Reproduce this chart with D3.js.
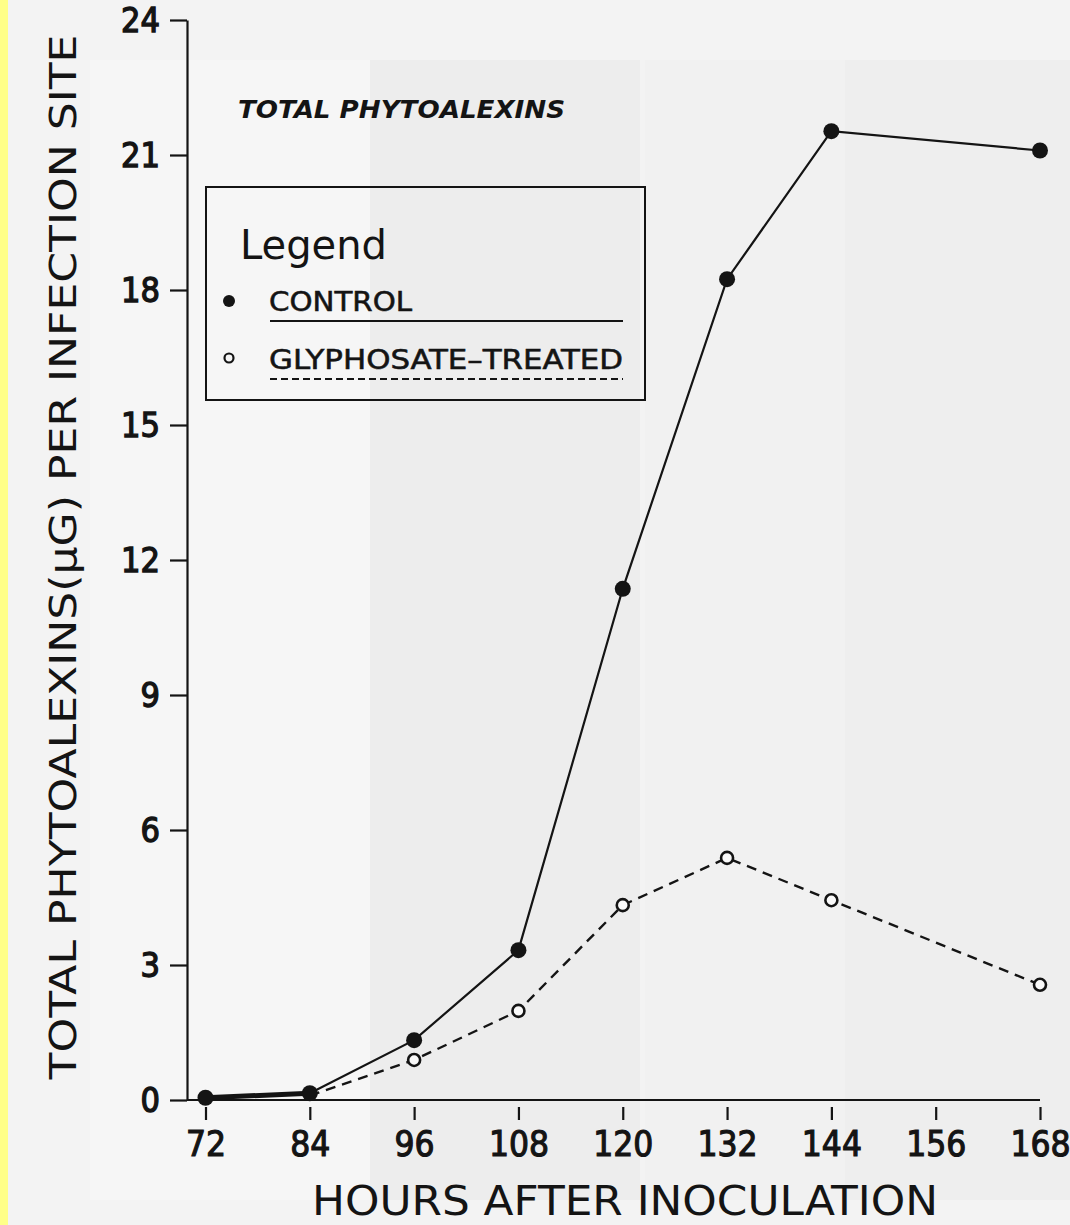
<!DOCTYPE html>
<html>
<head>
<meta charset="utf-8">
<script src="https://cdn.jsdelivr.net/npm/d3@7"></script>
<style>
  body { margin: 0; background: #fff; }
  svg { display: block; }
  text { fill: #141414; }
</style>
</head>
<body>
<div id="chart"></div>
<script>
// data
const hours = [72, 84, 96, 108, 120, 132, 144, 168];
const control = [0.05, 0.15, 1.33, 3.33, 11.36, 18.24, 21.53, 21.1];
const glyphosate = [0, 0.1, 0.89, 1.98, 4.33, 5.38, 4.44, 2.56];
const xTicks = [72, 84, 96, 108, 120, 132, 144, 156, 168];
const yTicks = [0, 3, 6, 9, 12, 15, 18, 21, 24];

const W = 1070, H = 1225;
const ink = "#141414";
const tickFont = "'Liberation Sans Narrow', 'DejaVu Sans Condensed', sans-serif";

const svg = d3.select("#chart").append("svg")
    .attr("width", W)
    .attr("height", H);

// scanned paper look
svg.append("rect").attr("width", W).attr("height", H).attr("fill", "#f3f3f3");
const bands = [[90, 280, "#f6f6f6"], [370, 270, "#ededed"], [645, 200, "#f1f1f1"], [845, 225, "#eeeeee"]];
svg.selectAll(".band").data(bands).enter().append("rect")
    .attr("x", d => d[0]).attr("y", 60).attr("width", d => d[1]).attr("height", 1140)
    .attr("fill", d => d[2]);
svg.append("rect").attr("width", 8).attr("height", H).attr("fill", "#ffff88");

const x = d3.scaleLinear().domain([72, 168]).range([205.5, 1040]);
const y = d3.scaleLinear().domain([0, 24]).range([1100, 20]);
const x0 = 187;

// y axis
const yAxis = svg.append("g")
    .attr("transform", "translate(" + x0 + ",0)")
    .call(d3.axisLeft(y).tickValues(yTicks).tickSize(17).tickPadding(10).tickSizeOuter(0));
yAxis.select(".domain").attr("stroke", ink).attr("stroke-width", 2.2);
yAxis.selectAll(".tick line").attr("stroke", ink).attr("stroke-width", 2.2);
yAxis.selectAll(".tick text")
    .attr("font-family", tickFont)
    .attr("font-size", 34).attr("fill", ink)
    .attr("stroke", ink).attr("stroke-width", 1.3)
    .attr("dy", "0.34em");

// x axis
svg.append("line")
    .attr("x1", x0).attr("x2", x(168))
    .attr("y1", y(0)).attr("y2", y(0))
    .attr("stroke", ink).attr("stroke-width", 2.2);
const xAxis = svg.append("g")
    .attr("transform", "translate(0," + y(0) + ")")
    .call(d3.axisBottom(x).tickValues(xTicks).tickSize(20).tickPadding(11));
xAxis.select(".domain").remove();
xAxis.selectAll(".tick line").attr("stroke", ink).attr("stroke-width", 2.2).attr("y1", 7);
xAxis.selectAll(".tick text")
    .attr("font-family", tickFont)
    .attr("font-size", 35).attr("fill", ink)
    .attr("stroke", ink).attr("stroke-width", 1.1);

// axis titles
svg.append("text")
    .attr("x", 625).attr("y", 1215)
    .attr("text-anchor", "middle")
    .attr("font-family", "'DejaVu Sans Condensed', sans-serif")
    .attr("font-size", 40)
    .attr("textLength", 626).attr("lengthAdjust", "spacingAndGlyphs")
    .text("HOURS AFTER INOCULATION");

svg.append("text")
    .attr("transform", "translate(76,557)rotate(-90)")
    .attr("text-anchor", "middle")
    .attr("font-family", "'DejaVu Sans Condensed', sans-serif")
    .attr("font-size", 38)
    .attr("textLength", 1045).attr("lengthAdjust", "spacingAndGlyphs")
    .text("TOTAL PHYTOALEXINS(\u03bcG) PER INFECTION SITE");

// inner title
svg.append("text")
    .attr("x", 238).attr("y", 118)
    .attr("font-family", "'DejaVu Sans Condensed', sans-serif")
    .attr("font-size", 24).attr("font-weight", "bold").attr("font-style", "italic")
    .attr("textLength", 327).attr("lengthAdjust", "spacingAndGlyphs")
    .text("TOTAL PHYTOALEXINS");

// series
const line = d3.line().x(d => x(d[0])).y(d => y(d[1]));
const ctrl = hours.map((h, i) => [h, control[i]]);
const gly = hours.map((h, i) => [h, glyphosate[i]]);

svg.append("path").datum(gly.slice(1))
    .attr("d", line).attr("fill", "none")
    .attr("stroke", ink).attr("stroke-width", 2.4).attr("stroke-dasharray", "10,7");
svg.append("path").datum(ctrl.slice(1))
    .attr("d", line).attr("fill", "none")
    .attr("stroke", ink).attr("stroke-width", 2.2);
svg.append("path").datum(ctrl.slice(0, 2))
    .attr("d", line).attr("fill", "none")
    .attr("stroke", ink).attr("stroke-width", 5);

svg.selectAll(".gpt").data(gly.slice(2)).enter().append("circle")
    .attr("cx", d => x(d[0])).attr("cy", d => y(d[1])).attr("r", 6)
    .attr("fill", "#fafafa").attr("stroke", ink).attr("stroke-width", 2.6);
svg.selectAll(".cpt").data(ctrl).enter().append("circle")
    .attr("cx", d => x(d[0])).attr("cy", d => y(d[1])).attr("r", 8)
    .attr("fill", ink);

// legend
const lg = svg.append("g");
lg.append("rect")
    .attr("x", 206).attr("y", 187).attr("width", 439).attr("height", 213)
    .attr("fill", "none").attr("stroke", ink).attr("stroke-width", 2);
lg.append("text")
    .attr("x", 240).attr("y", 259)
    .attr("font-family", "'DejaVu Sans', sans-serif").attr("font-size", 40)
    .text("Legend");
lg.append("circle").attr("cx", 229).attr("cy", 301).attr("r", 6).attr("fill", ink);
lg.append("circle").attr("cx", 229).attr("cy", 358).attr("r", 4.5)
    .attr("fill", "none").attr("stroke", ink).attr("stroke-width", 2.2);
lg.append("text")
    .attr("x", 269).attr("y", 311)
    .attr("font-family", "'DejaVu Sans Condensed', sans-serif").attr("font-size", 26)
    .attr("stroke", ink).attr("stroke-width", 0.5)
    .attr("textLength", 143).attr("lengthAdjust", "spacingAndGlyphs")
    .text("CONTROL");
lg.append("text")
    .attr("x", 269).attr("y", 369)
    .attr("font-family", "'DejaVu Sans Condensed', sans-serif").attr("font-size", 26)
    .attr("stroke", ink).attr("stroke-width", 0.5)
    .attr("textLength", 354).attr("lengthAdjust", "spacingAndGlyphs")
    .text("GLYPHOSATE\u2013TREATED");
lg.append("line")
    .attr("x1", 270).attr("x2", 623).attr("y1", 321).attr("y2", 321)
    .attr("stroke", ink).attr("stroke-width", 2);
lg.append("line")
    .attr("x1", 270).attr("x2", 623).attr("y1", 379).attr("y2", 379)
    .attr("stroke", ink).attr("stroke-width", 2.2).attr("stroke-dasharray", "7,4");
</script>
</body>
</html>
